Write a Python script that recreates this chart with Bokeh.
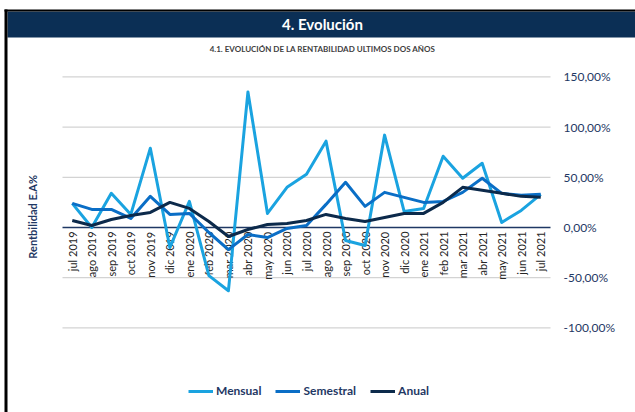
from math import pi

from bokeh.plotting import figure
from bokeh.models import Range1d, Legend, LegendItem, BoxAnnotation, Label
from bokeh.core.properties import value
from bokeh.embed import file_html
from bokeh.resources import INLINE

# ---------------- data ----------------
months = ["jul 2019", "ago 2019", "sep 2019", "oct 2019", "nov 2019", "dic 2019",
          "ene 2020", "feb 2020", "mar 2020", "abr 2020", "may 2020", "jun 2020",
          "jul 2020", "ago 2020", "sep 2020", "oct 2020", "nov 2020", "dic 2020",
          "ene 2021", "feb 2021", "mar 2021", "abr 2021", "may 2021", "jun 2021",
          "jul 2021"]
mensual = [24, 0, 34, 13, 79, -20, 26, -48, -63, 135, 14, 40, 53, 86, -13, -18,
           92, 16, 19, 71, 49, 64, 5, 17, 33]
semestral = [24, 18, 18, 9, 31, 13, 14, -5, -22, -7, -10, -1, 2, 23, 45, 21,
             35, 30, 25, 26, 35, 49, 34, 32, 33]
anual = [7, 2, 8, 12, 15, 25, 19, 6, -9, -2, 3, 4, 7, 13, 9, 6, 10, 14, 14, 25,
         40, 37, 34, 31, 30]
y_ticks = [-100, -50, 0, 50, 100, 150]
y_tick_labels = ["-100,00%", "-50,00%", "0,00%", "50,00%", "100,00%", "150,00%"]

header_text = "4. Evolución"
subtitle_text = "4.1. EVOLUCIÓN DE LA RENTABILIDAD ULTIMOS DOS AÑOS"
y_title = "Rentbilidad  E.A%"
series_names = ["Mensual", "Semestral", "Anual"]

# ---------------- styles ----------------
FONT = "Lato"
HDR_NAVY = "#0B2F55"
AXIS_NAVY = "#1F3864"
C_MENSUAL = "#1AA3E0"
C_SEMESTRAL = "#0A6EC6"
C_ANUAL = "#0C2A4B"
GRID = "#D3D3D3"

W, H = 635, 412

n = len(months)
xi = list(range(n))              # category slots
band_lo, band_hi = -0.5, n - 0.5  # outer edges of the category band

p = figure(width=W, height=H, output_backend="svg", toolbar_location=None,
           title=None,
           x_range=Range1d(-3.676, 28.854),
           y_range=Range1d(-184.3, 226.1),
           x_axis_location=None, y_axis_location=None,
           outline_line_color=None, background_fill_color="white",
           border_fill_color="white",
           min_border_left=0, min_border_right=0,
           min_border_top=0, min_border_bottom=0)
p.grid.visible = False

# header band and black frame edges (canvas pixels)
p.add_layout(BoxAnnotation(left=7, right=W, top=11, bottom=37,
                           left_units="canvas", right_units="canvas",
                           top_units="canvas", bottom_units="canvas",
                           fill_color=HDR_NAVY, fill_alpha=1, line_color=None,
                           level="underlay"))
p.add_layout(BoxAnnotation(left=4, right=W, top=9, bottom=11,
                           left_units="canvas", right_units="canvas",
                           top_units="canvas", bottom_units="canvas",
                           fill_color="black", fill_alpha=1, line_color=None,
                           level="underlay"))
p.add_layout(BoxAnnotation(left=4, right=7, top=9, bottom=H,
                           left_units="canvas", right_units="canvas",
                           top_units="canvas", bottom_units="canvas",
                           fill_color="black", fill_alpha=1, line_color=None,
                           level="underlay"))

# texts (screen units, origin bottom-left of canvas)
p.add_layout(Label(x=322, y=H - 23, x_units="screen", y_units="screen",
                   text=header_text, text_align="center", text_baseline="middle",
                   text_color="white", text_font=FONT, text_font_size="15px",
                   text_font_style="bold"))
p.add_layout(Label(x=322, y=H - 48, x_units="screen", y_units="screen",
                   text=subtitle_text, text_align="center", text_baseline="middle",
                   text_color="#404040", text_font=FONT, text_font_size="8px",
                   text_font_style="bold"))
p.add_layout(Label(x=32, y=H - 215, x_units="screen", y_units="screen",
                   text=y_title, angle=pi / 2, text_align="center",
                   text_baseline="middle", text_color=AXIS_NAVY, text_font=FONT,
                   text_font_size="11px", text_font_style="bold"))

# horizontal grid lines across the category band + value labels on the right
grid_ticks = [t for t in y_ticks if t != 0]
p.segment(x0=[band_lo] * len(grid_ticks), x1=[band_hi] * len(grid_ticks),
          y0=grid_ticks, y1=grid_ticks, line_color=GRID, line_width=1.2)
p.segment(x0=[band_lo], x1=[band_hi], y0=[0], y1=[0],
          line_color=AXIS_NAVY, line_width=1.5)
p.text(x=[band_hi] * len(y_ticks), y=y_ticks, text=y_tick_labels, x_offset=13,
       text_align="left", text_baseline="middle", text_font=value(FONT),
       text_font_size="12px", text_color=AXIS_NAVY)

# category labels hanging below the zero line
p.text(x=xi, y=[0] * n, text=months, angle=pi / 2,
       text_align="right", text_baseline="middle", y_offset=4,
       text_font=value(FONT), text_font_size="11px", text_color="#262626")

r1 = p.line(x=xi, y=mensual, line_color=C_MENSUAL, line_width=3,
            line_join="round")
r2 = p.line(x=xi, y=semestral, line_color=C_SEMESTRAL, line_width=3,
            line_join="round")
r3 = p.line(x=xi, y=anual, line_color=C_ANUAL, line_width=3,
            line_join="round")

legend = Legend(items=[LegendItem(label=series_names[0], renderers=[r1]),
                       LegendItem(label=series_names[1], renderers=[r2]),
                       LegendItem(label=series_names[2], renderers=[r3])],
                orientation="horizontal", location=(188, 14),
                padding=0, margin=0, spacing=14, label_standoff=3, glyph_width=25,
                glyph_height=12, label_height=12,
                label_text_font=FONT, label_text_font_size="12px",
                label_text_font_style="bold", label_text_color=AXIS_NAVY,
                border_line_color=None, background_fill_alpha=0)
p.add_layout(legend, "center")

open("out.html", "w").write(file_html(p, INLINE))
